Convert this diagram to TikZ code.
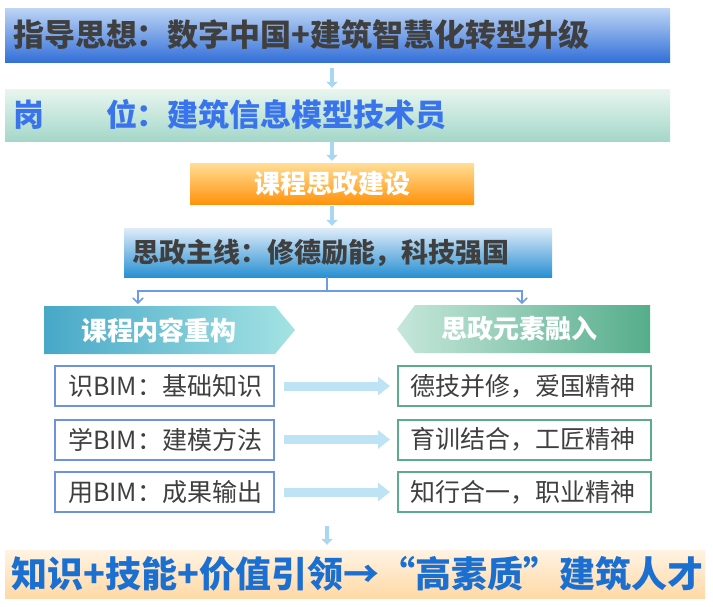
\documentclass[tikz,border=0pt]{standalone}
\usepackage{fontspec}
\setmainfont{Noto Sans CJK SC}
\usepackage{tikz}
\usetikzlibrary{arrows.meta,calc}
\definecolor{GuideTop}{HTML}{BED5F5}
\definecolor{GuideBot}{HTML}{3370D8}
\definecolor{PostTop}{HTML}{E8F6EF}
\definecolor{PostBot}{HTML}{A4D7C9}
\definecolor{PostText}{HTML}{3A74EC}
\definecolor{CourseTop}{HTML}{FFDE96}
\definecolor{CourseBot}{HTML}{FF930C}
\definecolor{LineTop}{HTML}{DEECF9}
\definecolor{LineBot}{HTML}{2890D2}
\definecolor{DarkText}{HTML}{3F3F3F}
\definecolor{RebuildL}{HTML}{48A8C8}
\definecolor{RebuildR}{HTML}{A4E3E3}
\definecolor{MergeL}{HTML}{C6E7DB}
\definecolor{MergeR}{HTML}{55AD8B}
\definecolor{LeftEdge}{HTML}{6B93E0}
\definecolor{RightEdge}{HTML}{5EAA8E}
\definecolor{FlowBlue}{HTML}{A9D6F0}
\definecolor{PushBlue}{HTML}{BEE3F5}
\definecolor{BranchBlue}{HTML}{6E9CE4}
\definecolor{TalentTop}{HTML}{FFF3E3}
\definecolor{TalentBot}{HTML}{FFD9A6}
\definecolor{TalentText}{HTML}{1B6FD0}

\begin{document}
\begin{tikzpicture}[
  x=1pt, y=-1pt,
  band/.style={inner xsep=8pt, inner ysep=0pt, align=left, font=\bfseries\fontsize{31}{33}\selectfont},
  item/.style={draw, line width=2pt, fill=white, inner xsep=13pt, inner ysep=0pt,
    minimum height=40pt, align=left, text=DarkText, font=\fontsize{25}{27}\selectfont},
  flow/.style={-{Triangle[length=6pt,width=11pt]}, line width=4pt, draw=FlowBlue},
  push/.style={-{Triangle[length=12pt,width=18pt]}, line width=9pt, draw=PushBlue,
    shorten <=9pt, shorten >=7pt},
  branch/.style={-{Straight Barb[length=5pt,width=10pt]}, line width=1.5pt, draw=BranchBlue}
]
  \useasboundingbox (0,0) rectangle (713,606);

  % top bands
  \node[band, text width=649pt, minimum height=54pt, top color=GuideTop, bottom color=GuideBot,
    text=DarkText] (guide) at (337.5,35) {指导思想：数字中国+建筑智慧化转型升级};
  \node[band, text width=649pt, minimum height=52pt, top color=PostTop, bottom color=PostBot,
    text=PostText] (post) at (337.5,115) {岗\hspace{2em}位：建筑信息模型技术员};
  \node[font=\bfseries\fontsize{26}{28}\selectfont, text=white, minimum width=284pt,
    minimum height=41pt, inner sep=0pt, top color=CourseTop, bottom color=CourseBot]
    (course) at (332,183.5) {课程思政建设};
  \node[band, font=\bfseries\fontsize{27}{29}\selectfont, text width=412pt, minimum height=49pt,
    top color=LineTop, bottom color=LineBot, text=DarkText] (mainline) at (338,252.5)
    {思政主线：修德励能，科技强国};

  \draw[flow, shorten <=6pt, shorten >=1pt] (guide.south -| course) -- (post.north -| course);
  \draw[flow, shorten >=2pt] (post.south -| course) -- (course.north);
  \draw[flow, shorten <=2pt, shorten >=2pt] (course.south) -- (mainline.north -| course);

  % split
  \coordinate (split) at (327,291);
  \coordinate (leftend) at (138,304);
  \coordinate (rightend) at (522,304);
  \draw[branch, -] (split |- mainline.south) -- (split);
  \draw[branch] (split) -| (leftend);
  \draw[branch] (split) -| (rightend);

  % two heads
  \shade[left color=RebuildL, right color=RebuildR]
    (44,306) -- (275,306) -- (295,330) -- (275,354) -- (44,354) -- cycle;
  \node[font=\bfseries\fontsize{26}{28}\selectfont, text=white] (rebuild) at (159,330) {课程内容重构};
  \shade[left color=MergeL, right color=MergeR]
    (397,329) -- (415,305) -- (650,305) -- (650,353) -- (415,353) -- cycle;
  \node[font=\bfseries\fontsize{26}{28}\selectfont, text=white] (merge) at (519,329) {思政元素融入};

  % rows
  \node[item, draw=LeftEdge, text width=193pt] (knowL) at (164.5,386) {识BIM：基础知识};
  \node[item, draw=LeftEdge, text width=193pt] (learnL) at (164.5,439.5) {学BIM：建模方法};
  \node[item, draw=LeftEdge, text width=193pt] (useL) at (164.5,492) {用BIM：成果输出};
  \node[item, draw=RightEdge, text width=229pt, inner xsep=12pt] (knowR) at (524.5,386) {德技并修，爱国精神};
  \node[item, draw=RightEdge, text width=229pt, inner xsep=12pt] (learnR) at (524.5,439.5) {育训结合，工匠精神};
  \node[item, draw=RightEdge, text width=229pt, inner xsep=12pt] (useR) at (524.5,492) {知行合一，职业精神};

  \draw[push] (knowL) -- (knowR);
  \draw[push] (learnL) -- (learnR);
  \draw[push] (useL) -- (useR);

  % result
  \node[band, font=\bfseries\fontsize{36}{38}\selectfont, inner xsep=7pt, text width=686pt,
    minimum height=48pt, top color=TalentTop, bottom color=TalentBot, text=TalentText]
    (talent) at (355,574) {知识+技能+价值引领→“高素质”建筑人才};

  \draw[flow, shorten <=13pt, shorten >=5pt] (useL.south -| split) -- (talent.north -| split);
\end{tikzpicture}
\end{document}
